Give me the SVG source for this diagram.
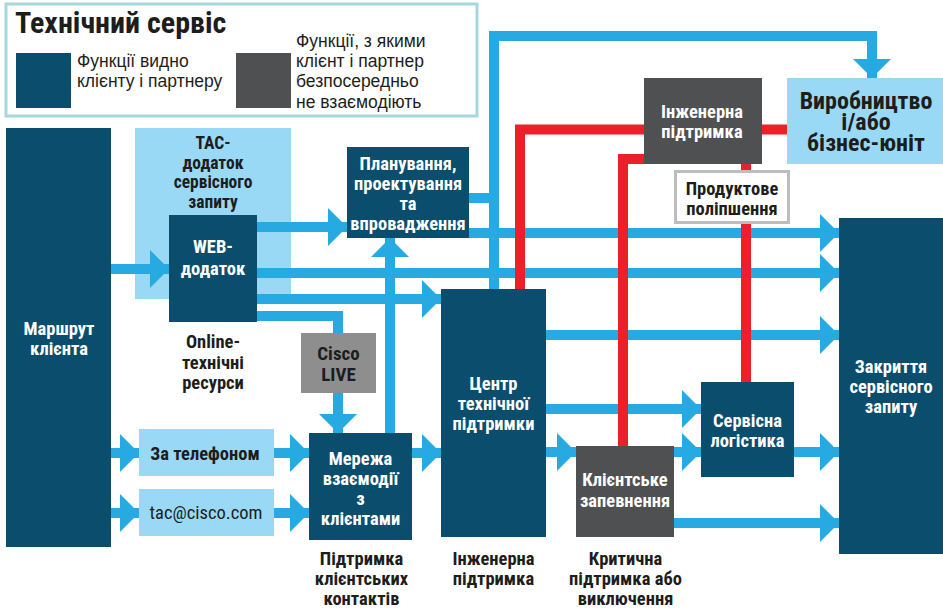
<svg xmlns="http://www.w3.org/2000/svg" width="943" height="610" viewBox="0 0 943 610">
<defs>
<style>
.dk{fill:#0a4d6c}
.gr{fill:#4f5052}
.lb{fill:#99d9f5}
.t{font-family:"Liberation Sans Narrow","Roboto Condensed","Liberation Sans",sans-serif;font-weight:bold;font-size:18.5px;text-anchor:middle}
.w{fill:#ffffff}
.k{fill:#1d1d1b}
.lg{font-family:"Liberation Sans Narrow","Liberation Sans",sans-serif;font-size:17.5px;fill:#1d1d1b}
.bl{fill:none;stroke:#27a9e1;stroke-width:10;stroke-linejoin:miter}
.rd{fill:none;stroke:#ed1f28;stroke-width:10;stroke-linejoin:miter}
</style>
<marker id="ah" markerUnits="userSpaceOnUse" viewBox="0 -19 19 38" refX="19" refY="0" markerWidth="19" markerHeight="38" orient="auto">
<path d="M0,-19 L19,0 L0,19 Z" fill="#27a9e1"/>
</marker>
</defs>
<rect width="943" height="610" fill="#ffffff"/>
<g id="legend">
<rect x="6" y="4" width="471" height="112" fill="#ffffff" stroke="#a6d7dc" stroke-width="3"/>
<text x="15" y="33" class="t k" style="text-anchor:start;font-size:30px">Технічний сервіс</text>
<rect x="16" y="53" width="55" height="55" class="dk"/>
<text class="lg" x="77" y="67">Функції видно</text>
<text class="lg" x="77" y="87">клієнту і партнеру</text>
<rect x="236" y="53" width="55" height="55" class="gr"/>
<text class="lg" x="296" y="47">Функції, з якими</text>
<text class="lg" x="296" y="67">клієнт і партнер</text>
<text class="lg" x="296" y="87">безпосередньо</text>
<text class="lg" x="296" y="108">не взаємодіють</text>
</g>
<g id="tac-app">
<rect x="135" y="128" width="156" height="171" class="lb"/>
<text class="t k" style="font-size:17.5px"><tspan x="213" y="149">TAC-</tspan><tspan x="213" y="168.5">додаток</tspan><tspan x="213" y="188">сервісного</tspan><tspan x="213" y="207.5">запиту</tspan></text>
</g>
<g id="connectors">
<path class="bl" d="M111 269 H169" marker-end="url(#ah)"/>
<path class="bl" d="M257 227 H347" marker-end="url(#ah)"/>
<path class="bl" d="M257 273 H839" marker-end="url(#ah)"/>
<path class="bl" d="M257 299 H441" marker-end="url(#ah)"/>
<path class="bl" d="M257 316 H338 V333"/>
<path class="bl" d="M338 393 V433" marker-end="url(#ah)"/>
<path class="bl" d="M390 433 V238" marker-end="url(#ah)"/>
<path class="bl" d="M111 453 H139" marker-end="url(#ah)"/>
<path class="bl" d="M111 513 H139" marker-end="url(#ah)"/>
<path class="bl" d="M274 453 H309" marker-end="url(#ah)"/>
<path class="bl" d="M274 513 H309" marker-end="url(#ah)"/>
<path class="bl" d="M412 453 H441" marker-end="url(#ah)"/>
<path class="bl" d="M546 452 H576" marker-end="url(#ah)"/>
<path class="bl" d="M546 409 H701" marker-end="url(#ah)"/>
<path class="bl" d="M674 452 H701" marker-end="url(#ah)"/>
<path class="bl" d="M794 452 H839" marker-end="url(#ah)"/>
<path class="bl" d="M674 523 H839" marker-end="url(#ah)"/>
<path class="bl" d="M546 335 H839" marker-end="url(#ah)"/>
<path class="bl" d="M469 233 H839" marker-end="url(#ah)"/>
<path class="bl" d="M469 198 H494"/>
<path class="bl" d="M494 289 V36 H872 V78" marker-end="url(#ah)"/>
<path class="rd" d="M520 289 V129.5 H644"/>
<path class="rd" d="M762 129.5 H787"/>
<path class="rd" d="M623 446 V159 H644"/>
<path class="rd" d="M746 382 V164"/>
</g>
<g id="route">
<rect x="6" y="128" width="105" height="419" class="dk"/>
<text class="t w"><tspan x="59" y="335">Маршрут</tspan><tspan x="59" y="355">клієнта</tspan></text>
</g>
<g id="web-app">
<rect x="169" y="215" width="88" height="107" class="dk"/>
<text class="t w"><tspan x="213" y="253">WEB-</tspan><tspan x="213" y="275">додаток</tspan></text>
</g>
<g id="online-label">
<text class="t k"><tspan x="213" y="348">Online-</tspan><tspan x="213" y="369">технічні</tspan><tspan x="213" y="389">ресурси</tspan></text>
</g>
<g id="planning">
<rect x="347" y="147" width="122" height="91" class="dk"/>
<text class="t w"><tspan x="408" y="170">Планування,</tspan><tspan x="408" y="190">проектування</tspan><tspan x="408" y="210">та</tspan><tspan x="408" y="230">впровадження</tspan></text>
</g>
<g id="cisco-live">
<rect x="301" y="333" width="75" height="60" fill="#8e8e8e"/>
<text class="t k" style="font-size:19px"><tspan x="338.5" y="359.5">Cisco</tspan><tspan x="338.5" y="381">LIVE</tspan></text>
</g>
<g id="phone">
<rect x="139" y="429" width="135" height="47" class="lb"/>
<text class="t k" x="205" y="460">За телефоном</text>
</g>
<g id="email">
<rect x="139" y="489" width="135" height="47" class="lb"/>
<text class="t k" x="206" y="519" style="font-weight:normal">tac@cisco.com</text>
</g>
<g id="network">
<rect x="309" y="433" width="103" height="107" class="dk"/>
<text class="t w"><tspan x="360.5" y="465">Мережа</tspan><tspan x="360.5" y="485">взаємодії</tspan><tspan x="360.5" y="505">з</tspan><tspan x="360.5" y="525">клієнтами</tspan></text>
</g>
<g id="contact-label">
<text class="t k"><tspan x="361.5" y="565">Підтримка</tspan><tspan x="361.5" y="585">клієнтських</tspan><tspan x="361.5" y="605">контактів</tspan></text>
</g>
<g id="tac-center">
<rect x="441" y="289" width="105" height="248" class="dk"/>
<text class="t w"><tspan x="493.5" y="390">Центр</tspan><tspan x="493.5" y="410">технічної</tspan><tspan x="493.5" y="430">підтримки</tspan></text>
</g>
<g id="eng-label">
<text class="t k"><tspan x="493.5" y="565">Інженерна</tspan><tspan x="493.5" y="585">підтримка</tspan></text>
</g>
<g id="assurance">
<rect x="576" y="446" width="98" height="91" class="gr"/>
<text class="t w"><tspan x="625" y="486">Клієнтське</tspan><tspan x="625" y="507">запевнення</tspan></text>
</g>
<g id="critical-label">
<text class="t k"><tspan x="625.5" y="565">Критична</tspan><tspan x="625.5" y="585">підтримка або</tspan><tspan x="625.5" y="605">виключення</tspan></text>
</g>
<g id="logistics">
<rect x="701" y="382" width="93" height="95" class="dk"/>
<text class="t w"><tspan x="747.5" y="427">Сервісна</tspan><tspan x="747.5" y="447">логістика</tspan></text>
</g>
<g id="closure">
<rect x="839" y="218" width="104" height="336" class="dk"/>
<text class="t w"><tspan x="891" y="373">Закриття</tspan><tspan x="891" y="393">сервісного</tspan><tspan x="891" y="413">запиту</tspan></text>
</g>
<g id="eng-support">
<rect x="644" y="78" width="118" height="86" class="gr"/>
<text class="t w"><tspan x="702" y="118">Інженерна</tspan><tspan x="702" y="138">підтримка</tspan></text>
</g>
<g id="production">
<rect x="787" y="78" width="156" height="86" class="lb"/>
<text class="t k" style="font-size:24px"><tspan x="866" y="109">Виробництво</tspan><tspan x="866" y="130">і/або</tspan><tspan x="866" y="151">бізнес-юніт</tspan></text>
</g>
<g id="product">
<rect x="675.5" y="171.5" width="113" height="51" fill="#ffffff" stroke="#bdbdbd" stroke-width="3"/>
<text class="t k"><tspan x="732" y="195">Продуктове</tspan><tspan x="732" y="215">поліпшення</tspan></text>
</g>
</svg>
